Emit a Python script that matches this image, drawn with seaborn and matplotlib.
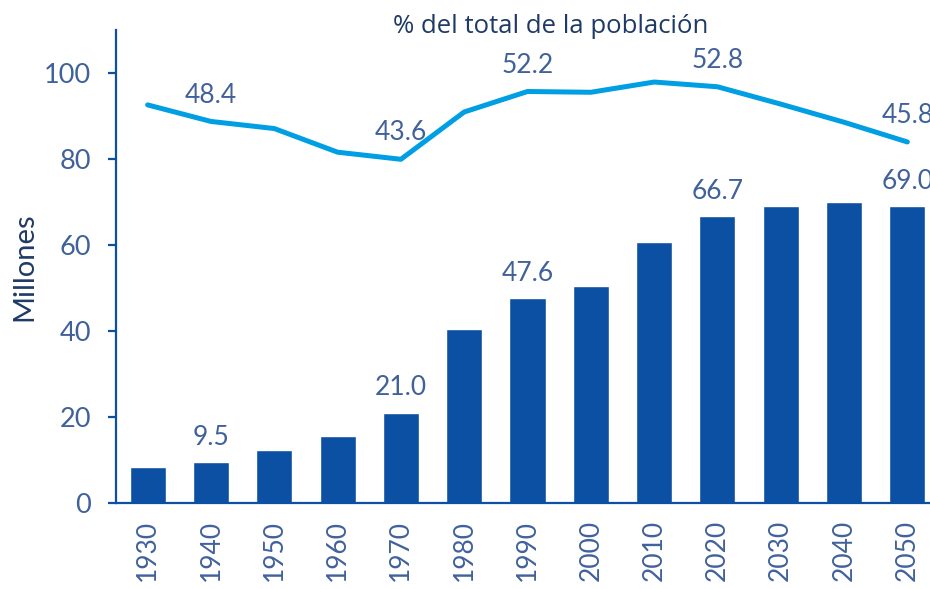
import numpy as np
import pandas as pd
import matplotlib
matplotlib.use("Agg")
import matplotlib.pyplot as plt
import seaborn as sns

years = ["1930", "1940", "1950", "1960", "1970", "1980", "1990",
         "2000", "2010", "2020", "2030", "2040", "2050"]
millions = [8.3, 9.5, 12.3, 15.6, 21.0, 40.4, 47.6, 50.5, 60.6, 66.7, 69.1, 70.0, 69.0]
pct_total = [50.5, 48.4, 47.5, 44.5, 43.6, 49.6, 52.2, 52.1, 53.4, 52.8, 50.6, 48.3, 45.8]
labelled = ["1940", "1970", "1990", "2020", "2050"]

bar_color = "#0b50a2"
line_color = "#009fe3"
text_color = "#40619a"
title_color = "#1f3a66"

sns.set_style("white")
plt.rcParams["font.family"] = ["Lato", "DejaVu Sans"]

df = pd.DataFrame({"year": years, "millions": millions, "pct": pct_total})

fig = plt.figure(figsize=(9.3, 5.89), dpi=100)
ax = fig.add_axes([116 / 930, 86 / 589, 823 / 930, 473 / 589])

sns.barplot(data=df, x="year", y="millions", color=bar_color, width=0.57,
            saturation=1, ax=ax)
ax.set_xlim(-0.5, len(years) - 0.5)
ax.set_ylim(0, 110)
ax.set_yticks([0, 20, 40, 60, 80, 100])

ax2 = ax.twinx()
sns.lineplot(x=np.arange(len(years)), y=df["pct"], color=line_color,
             linewidth=3.6, ax=ax2, solid_capstyle="round")
ax2.set_ylim(0, 60)
ax2.set_xlim(-0.5, len(years) - 0.5)
ax2.axis("off")

for i, y in enumerate(years):
    if y in labelled:
        ax.annotate(f"{millions[i]:.1f}", (i, millions[i]), xytext=(0, 9),
                    textcoords="offset points", ha="center", va="bottom",
                    fontsize=19, color=text_color)
        ax2.annotate(f"{pct_total[i]:.1f}", (i, pct_total[i]), xytext=(0, 10),
                     textcoords="offset points", ha="center", va="bottom",
                     fontsize=19, color=text_color)

for side in ["top", "right"]:
    ax.spines[side].set_visible(False)
for side in ["left", "bottom"]:
    ax.spines[side].set_color(bar_color)
    ax.spines[side].set_linewidth(1.6)

ax.set_xticks(np.arange(len(years)))
ax.set_xticklabels(years, rotation=90)
ax.set_xticks(np.arange(len(years) + 1) - 0.5, minor=True)
ax.tick_params(axis="x", which="major", length=0, pad=12,
               labelsize=19, labelcolor=text_color)
ax.tick_params(axis="x", which="minor", length=7, width=1.6,
               color=bar_color, direction="out")
ax.tick_params(axis="y", length=6, width=1.6, color=bar_color,
               labelsize=19.5, labelcolor=text_color, pad=12)

ax.set_xlabel("")
ax.set_ylabel("Millones", fontsize=21, color=title_color, labelpad=5)

fig.text(0.592, 0.955, "% del total de la población", ha="center", va="center",
         fontsize=18.5, color=title_color, family=["Open Sans", "DejaVu Sans"])

fig.savefig("out.png", dpi=100)
